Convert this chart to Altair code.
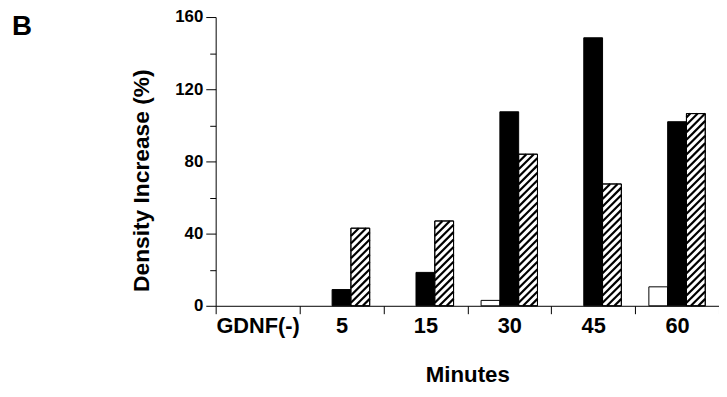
import json
import math
import altair as alt
import pandas as pd

# ---- data ----
categories = ["GDNF(-)", "5", "15", "30", "45", "60"]
series_names = ["Open", "Solid", "Hatched"]
open_vals = [0, 0, 0, 3, 0, 10.5]
solid_vals = [0, 9, 18.5, 107.5, 148.5, 102]
hatched_vals = [0, 43, 47, 84, 67.5, 106.5]
y_ticks = [0, 20, 40, 60, 80, 100, 120, 140, 160]

# ---- layout / style ----
W, H = 509, 292
Y_MAX = 160
N = len(categories)
px_x = W / N
px_y = H / Y_MAX
BAR_PX = 19
bar_w = BAR_PX / px_x
FONT = "Liberation Sans"

rows = []
for i, cat in enumerate(categories):
    for j, (name, vals) in enumerate(zip(series_names, [open_vals, solid_vals, hatched_vals])):
        x0 = i + 0.5 + (j - 1.5) * bar_w
        rows.append({"cat": cat, "series": name, "x0": x0, "x1": x0 + bar_w, "v": vals[i]})
bars_df = pd.DataFrame(rows)

# hatch segments for the hatched series, derived from its values
SPACING = 7.5
hatch = []
for i, v in enumerate(hatched_vals):
    if v <= 0:
        continue
    xl = i + 0.5 + 0.5 * bar_w
    hpx = v * px_y
    for k in range(math.floor(-BAR_PX / SPACING), math.ceil(hpx / SPACING) + 1):
        c = k * SPACING + 3
        t0 = max(0.0, -c)
        t1 = min(float(BAR_PX), hpx - c)
        if t1 - t0 > 0.5:
            hatch.append({"x": xl + t0 / px_x, "y": (c + t0) / px_y,
                          "x2": xl + t1 / px_x, "y2": (c + t1) / px_y})
hatch_df = pd.DataFrame(hatch)

cat_array = json.dumps(categories)
x_scale = alt.Scale(domain=[0, N], nice=False, zero=False)
y_scale = alt.Scale(domain=[0, Y_MAX], nice=False)

x_axis = alt.Axis(
    values=[k / 2 for k in range(0, 2 * N + 1)],
    labelExpr=f"(datum.value % 1) == 0.5 ? {cat_array}[floor(datum.value)] : ''",
    tickOpacity={"condition": {"test": "(datum.value % 1) != 0", "value": 0}, "value": 1},
    tickSize=8, labelPadding=2, labelOverlap=False, labelFlush=False,
    labelFontSize=22, labelFontWeight="bold", labelFont=FONT, labelColor="black",
    title="Minutes", titleFontSize=22.5, titleFontWeight="bold", titleFont=FONT,
    titleColor="black", titleBaseline="alphabetic", titleY=77, grid=False,
    domainColor="black", tickColor="black",
)
y_axis = alt.Axis(
    values=y_ticks,
    labelExpr="datum.value % 40 == 0 ? datum.label : ''",
    tickSize={"condition": {"test": "datum.value % 40 == 0", "value": 10}, "value": 6},
    labelPadding=3, labelOverlap=False, labelFlush=False,
    labelFontSize=17, labelFontWeight="bold", labelFont=FONT, labelColor="black",
    title="Density Increase (%)", titleFontSize=23, titleFontWeight="bold", titleFont=FONT,
    titleColor="black", titleX=-63, titleY=165, grid=False,
    domainColor="black", tickColor="black",
)

bars = alt.Chart(bars_df).transform_filter(alt.datum.v > 0).mark_bar(
    stroke="black", strokeWidth=1
).encode(
    x=alt.X("x0:Q", scale=x_scale, axis=x_axis),
    x2="x1:Q",
    y=alt.Y("v:Q", scale=y_scale, axis=y_axis),
    y2=alt.datum(0),
    fill=alt.Fill("series:N", scale=alt.Scale(domain=series_names, range=["white", "black", "white"]),
                  legend=None),
)

hatch_lines = alt.Chart(hatch_df).mark_rule(color="black", strokeWidth=2.2).encode(
    x=alt.X("x:Q", scale=x_scale, axis=x_axis),
    x2="x2:Q",
    y=alt.Y("y:Q", scale=y_scale, axis=y_axis),
    y2="y2:Q",
)

outline = alt.Chart(bars_df).transform_filter(
    (alt.datum.series == "Hatched") & (alt.datum.v > 0)
).mark_bar(fillOpacity=0, stroke="black", strokeWidth=1).encode(
    x=alt.X("x0:Q", scale=x_scale, axis=x_axis),
    x2="x1:Q",
    y=alt.Y("v:Q", scale=y_scale, axis=y_axis),
    y2=alt.datum(0),
)

panel = alt.Chart(pd.DataFrame({"t": ["B"]})).mark_text(
    font=FONT, fontSize=28, fontWeight="bold", align="left", baseline="alphabetic", color="black"
).encode(text="t:N", x=alt.value(-206), y=alt.value(18))

chart = alt.layer(bars, hatch_lines, outline, panel).properties(
    width=W, height=H,
    padding={"left": 210, "top": 7, "right": 0, "bottom": 82},
    autosize=alt.AutoSizeParams(type="none"),
).configure_view(stroke=None)

chart.save("out.html", embed_options={"renderer": "svg", "actions": False})
